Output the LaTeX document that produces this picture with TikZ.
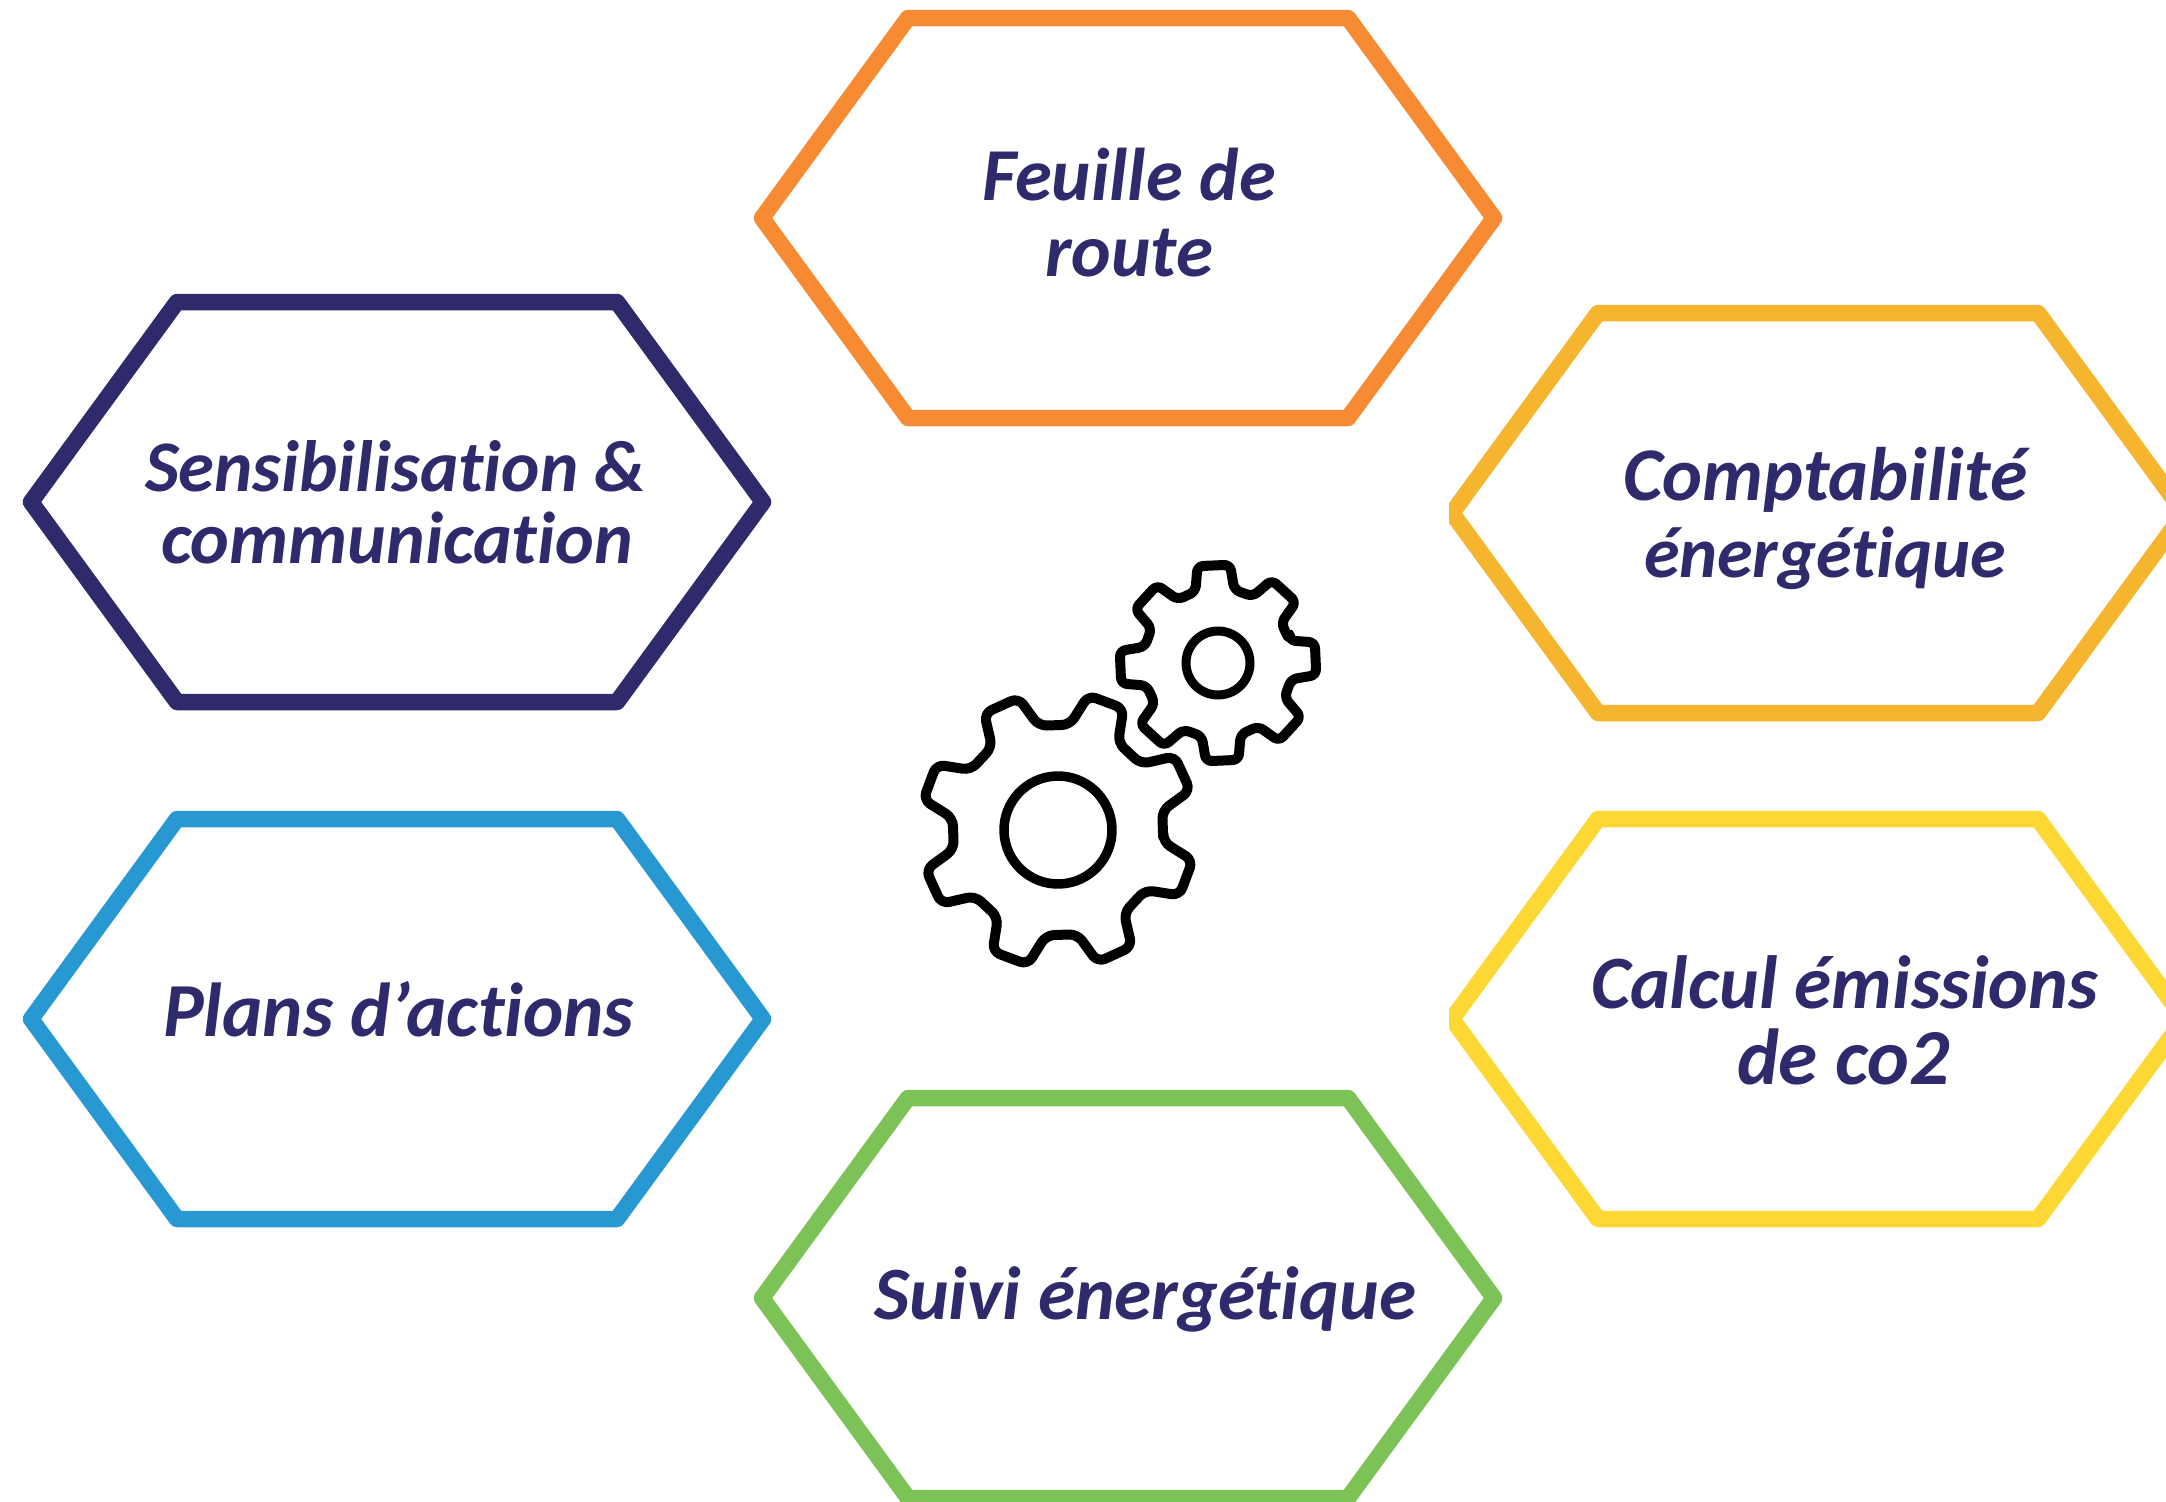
\documentclass[tikz,border=0pt]{standalone}
\usepackage{fontspec}
\usepackage{graphicx}
\setmainfont[Ligatures=NoCommon]{Carlito}
\definecolor{inkc}{HTML}{2F2A6B}
\definecolor{orangec}{HTML}{F68B33}
\definecolor{amberc}{HTML}{F5B52E}
\definecolor{yellowc}{HTML}{FDD835}
\definecolor{bluec}{HTML}{2898D2}
\definecolor{greenc}{HTML}{7DC256}
\tikzset{
  hexline/.style={line width=16.5pt,line join=round,fill=white},
  gearline/.style={line width=10pt,black,line join=round,rounded corners=8pt},
  lab/.style={anchor=base west,inner sep=0pt,outer sep=0pt,text=inkc,font=\fontsize{60}{60}\selectfont\bfseries\itshape}
}
\newcommand{\hexa}[4]{%
  \coordinate (#1) at (#2,#3);
  \draw[hexline,draw=#4,shift={(#1)}] (-366,0)--(-220,-200)--(220,-200)--(366,0)--(220,200)--(-220,200)--cycle;
}
\newcommand{\lab}[5]{\node[lab] (#1) at (#2,#3) {\resizebox{#4pt}{!}{#5}};}
\begin{document}
\begin{tikzpicture}[x=1pt,y=-1pt]
\useasboundingbox (0,0) rectangle (2166,1502);
\clip (0,0) rectangle (2166,1502);
\fill[white] (0,0) rectangle (2166,1502);
\hexa{feuille}{1128}{218}{orangec}
\hexa{sensi}{397}{502}{inkc}
\hexa{plans}{397}{1019}{bluec}
\hexa{suivi}{1128}{1298}{greenc}
\begin{scope}
\clip (1449,0) rectangle (2166,1502);
\hexa{compta}{1818}{513}{amberc}
\hexa{calcul}{1818}{1019}{yellowc}
\end{scope}
% gears
\begin{scope}[shift={(1058,830)},rotate=2]
\draw[gearline] (8.5:106)
  \foreach \a in {22.5,67.5,...,337.5}{ -- (\a-14:106) -- (\a-7.8:138) -- (\a+7.8:138) -- (\a+14:106) } -- cycle;
\draw[line width=9.5pt] (0,0) circle (54);
\end{scope}
\begin{scope}[shift={(1218,663)},rotate=2.5]
\draw[gearline,rounded corners=6pt] (-15:75)
  \foreach \a in {0,45,...,315}{ -- (\a-15:75) -- (\a-9.5:99) -- (\a+9.5:99) -- (\a+15:75) } -- cycle;
\draw[line width=9pt] (0,0) circle (32);
\end{scope}
% labels
\lab{t1a}{982}{200}{294}{Feuille de}
\lab{t1b}{1045}{276}{168}{route}
\lab{t2a}{145}{491}{501}{Sensibilisation \&}
\lab{t2b}{161}{563}{472}{communication}
\lab{t3a}{1623}{500}{404}{Comptabilité}
\lab{t3b}{1644}{577}{362}{énergétique}
\lab{t4}{163}{1036}{471}{Plans d’actions}
\lab{t5a}{1591}{1008}{507}{Calcul émissions}
\lab{t5b}{1737}{1084}{213}{de co2}
\lab{t6}{874}{1319}{542}{Suivi énergétique}
\end{tikzpicture}
\end{document}
